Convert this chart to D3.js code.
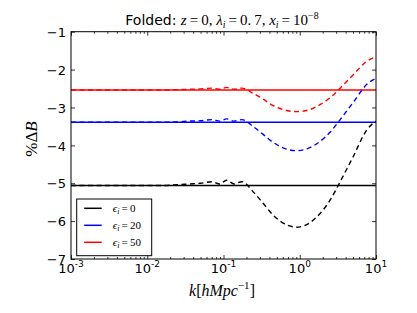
<!DOCTYPE html>
<html>
<head>
<meta charset="utf-8">
<script src="https://cdn.jsdelivr.net/npm/d3@7"></script>
<style>
  body { margin: 0; background: #fff; }
  .tick text { font-family: 'DejaVu Sans', sans-serif; }
  .math { font-family: 'Liberation Serif', 'DejaVu Serif', serif; }
</style>
</head>
<body>
<div id="graph"></div>
<script>
// k values (log10 of k in h/Mpc) where the dashed curves were read
var logK = [-3, -2, -1.8, -1.6, -1.45, -1.3, -1.15, -1.05, -0.96, -0.86, -0.76, -0.6, -0.48,
            -0.35, -0.17, -0.04, 0.11, 0.27, 0.40, 0.53, 0.70, 0.88, 1.0];

var eps0  = [-5.06, -5.06, -5.06, -5.04, -5.02, -5.00, -4.96, -5.02, -4.92, -5.02, -4.96, -5.25, -5.53,
             -5.84, -6.10, -6.16, -6.07, -5.79, -5.44, -4.96, -4.30, -3.59, -3.36];
var eps20 = [-3.39, -3.39, -3.39, -3.38, -3.36, -3.35, -3.32, -3.36, -3.30, -3.36, -3.32, -3.52, -3.71,
             -3.92, -4.10, -4.14, -4.08, -3.89, -3.65, -3.32, -2.87, -2.39, -2.23];
var eps50 = [-2.54, -2.54, -2.54, -2.53, -2.52, -2.51, -2.49, -2.52, -2.47, -2.52, -2.49, -2.64, -2.78,
             -2.95, -3.08, -3.11, -3.07, -2.92, -2.74, -2.49, -2.14, -1.78, -1.66];

// flat reference levels (solid lines)
var levels = [-5.06, -3.39, -2.54];

var seriesNames  = ['0', '20', '50'];
var seriesColors = ['#000000', '#0000ff', '#ff0000'];

var xTickExp = [-3, -2, -1, 0, 1];
var yTicks   = [-1, -2, -3, -4, -5, -6, -7];

var width = 417, height = 313;
var margin = { top: 31.7, right: 41, bottom: 54, left: 71 };
var w = width - margin.left - margin.right;
var h = height - margin.top - margin.bottom;

var svg = d3.select('#graph')
            .append('svg')
            .attr('width', width)
            .attr('height', height);

var g = svg.append('g')
           .attr('transform', 'translate(' + margin.left + ',' + margin.top + ')');

var xScale = d3.scaleLog().domain([1e-3, 10]).range([0, w]);
var yScale = d3.scaleLinear().domain([-7, -1]).range([h, 0]);

var curves = [eps0, eps20, eps50];

var line = d3.line()
             .x(function (d) { return xScale(Math.pow(10, d[0])); })
             .y(function (d) { return yScale(d[1]); })
             .curve(d3.curveMonotoneX);

g.append('clipPath').attr('id', 'clip')
 .append('rect').attr('width', w).attr('height', h);

var plot = g.append('g').attr('clip-path', 'url(#clip)');

// solid horizontal levels
levels.forEach(function (v, i) {
    plot.append('line')
        .attr('x1', xScale(1e-3)).attr('x2', xScale(10))
        .attr('y1', yScale(v)).attr('y2', yScale(v))
        .attr('stroke', seriesColors[i])
        .attr('stroke-width', 1.5);
});

// dashed curves
curves.forEach(function (vals, i) {
    var pts = logK.map(function (lk, j) { return [lk, vals[j]]; });
    plot.append('path')
        .datum(pts)
        .attr('d', line)
        .attr('fill', 'none')
        .attr('stroke', seriesColors[i])
        .attr('stroke-width', 1.4)
        .attr('stroke-dasharray', '5,3.5');
});

// minor ticks for log axis
var minors = [];
for (var e = -3; e < 1; e++)
    for (var m = 2; m <= 9; m++) minors.push(m * Math.pow(10, e));

var majors = xTickExp.map(function (e) { return Math.pow(10, e); });

function styleAxis (sel) {
    sel.select('.domain').remove();
    sel.selectAll('line').attr('stroke', '#000').attr('stroke-width', 0.8);
}

g.append('g').attr('transform', 'translate(0,' + h + ')')
 .call(d3.axisBottom(xScale).tickValues(majors).tickSize(-4).tickFormat(''))
 .call(styleAxis);
g.append('g').attr('transform', 'translate(0,' + h + ')')
 .call(d3.axisBottom(xScale).tickValues(minors).tickSize(-2).tickFormat(''))
 .call(styleAxis);
g.append('g')
 .call(d3.axisTop(xScale).tickValues(majors).tickSize(-4).tickFormat(''))
 .call(styleAxis);
g.append('g')
 .call(d3.axisTop(xScale).tickValues(minors).tickSize(-2).tickFormat(''))
 .call(styleAxis);

var yAxis = g.append('g')
 .call(d3.axisLeft(yScale).tickValues(yTicks).tickSize(-4).tickPadding(5)
         .tickFormat(function (d) { return '\u2212' + Math.abs(d); }))
 .call(styleAxis);
yAxis.selectAll('text').attr('font-size', 13).attr('fill', '#000').attr('dy', '0.36em');

g.append('g').attr('transform', 'translate(' + w + ',0)')
 .call(d3.axisRight(yScale).tickValues(yTicks).tickSize(-4).tickFormat(''))
 .call(styleAxis);

// x tick labels 10^n
xTickExp.forEach(function (e) {
    var t = g.append('text')
             .attr('x', xScale(Math.pow(10, e)))
             .attr('y', h + 14)
             .attr('text-anchor', 'middle')
             .style('font-family', "'DejaVu Sans', sans-serif")
             .attr('font-size', 13);
    t.append('tspan').text('10');
    t.append('tspan').attr('font-size', 9).attr('dy', -6).text(e < 0 ? '-' + Math.abs(e) : String(e));
});

// frame
g.append('rect')
 .attr('width', w).attr('height', h)
 .attr('fill', 'none').attr('stroke', '#000').attr('stroke-width', 1);

function mathSpan (parent, txt, italic, opts) {
    var s = parent.append('tspan').attr('class', 'math').text(txt);
    if (italic) s.attr('font-style', 'italic');
    if (opts) Object.keys(opts).forEach(function (k) { s.attr(k, opts[k]); });
    return s;
}

// title
var title = svg.append('text')
               .attr('x', 222).attr('y', 25)
               .attr('text-anchor', 'middle')
               .attr('font-size', 14);
title.append('tspan').style('font-family', "'DejaVu Sans', sans-serif").text('Folded: ');
mathSpan(title, 'z', true, { 'font-size': 15 });
mathSpan(title, '\u2009=\u20090, ', false, { 'font-size': 15 });
mathSpan(title, '\u03bb', true, { 'font-size': 15 });
mathSpan(title, 'i', true, { 'font-size': 10, dy: 3 });
mathSpan(title, '\u2009=\u20090.\u20097, ', false, { 'font-size': 15, dy: -3 });
mathSpan(title, 'x', true, { 'font-size': 15 });
mathSpan(title, 'i', true, { 'font-size': 10, dy: 3 });
mathSpan(title, '\u2009=\u200910', false, { 'font-size': 15, dy: -3 });
mathSpan(title, '\u22128', false, { 'font-size': 10, dy: -6 });

// x label
var xl = svg.append('text')
            .attr('x', 222).attr('y', 296)
            .attr('text-anchor', 'middle')
            .attr('font-size', 16);
mathSpan(xl, 'k', true);
mathSpan(xl, '[', false);
mathSpan(xl, 'hMpc', true);
mathSpan(xl, '\u22121', false, { 'font-size': 11, dy: -7 });
mathSpan(xl, ']', false, { dy: 7 });

// y label
var yl = svg.append('text')
            .attr('transform', 'translate(37,139) rotate(-90)')
            .attr('text-anchor', 'middle')
            .attr('font-size', 17);
mathSpan(yl, '%\u0394', false);
mathSpan(yl, 'B', true);

// legend
var lg = g.append('g').attr('transform', 'translate(' + (76.7 - margin.left) + ',' + (199 - margin.top) + ')');
lg.append('rect')
  .attr('width', 75).attr('height', 56.7)
  .attr('fill', '#fff').attr('stroke', '#000').attr('stroke-width', 1);
seriesNames.forEach(function (name, i) {
    var yy = 9.3 + i * 17;
    lg.append('line')
      .attr('x1', 7.5).attr('x2', 25)
      .attr('y1', yy).attr('y2', yy)
      .attr('stroke', seriesColors[i]).attr('stroke-width', 1.5);
    var t = lg.append('text')
              .attr('x', 36).attr('y', yy + 3.5)
              .attr('font-size', 11);
    mathSpan(t, '\u03f5', true);
    mathSpan(t, 'i', true, { 'font-size': 8, dy: 2 });
    mathSpan(t, '\u2009=\u2009' + name, false, { dy: -2 });
});
</script>
</body>
</html>
